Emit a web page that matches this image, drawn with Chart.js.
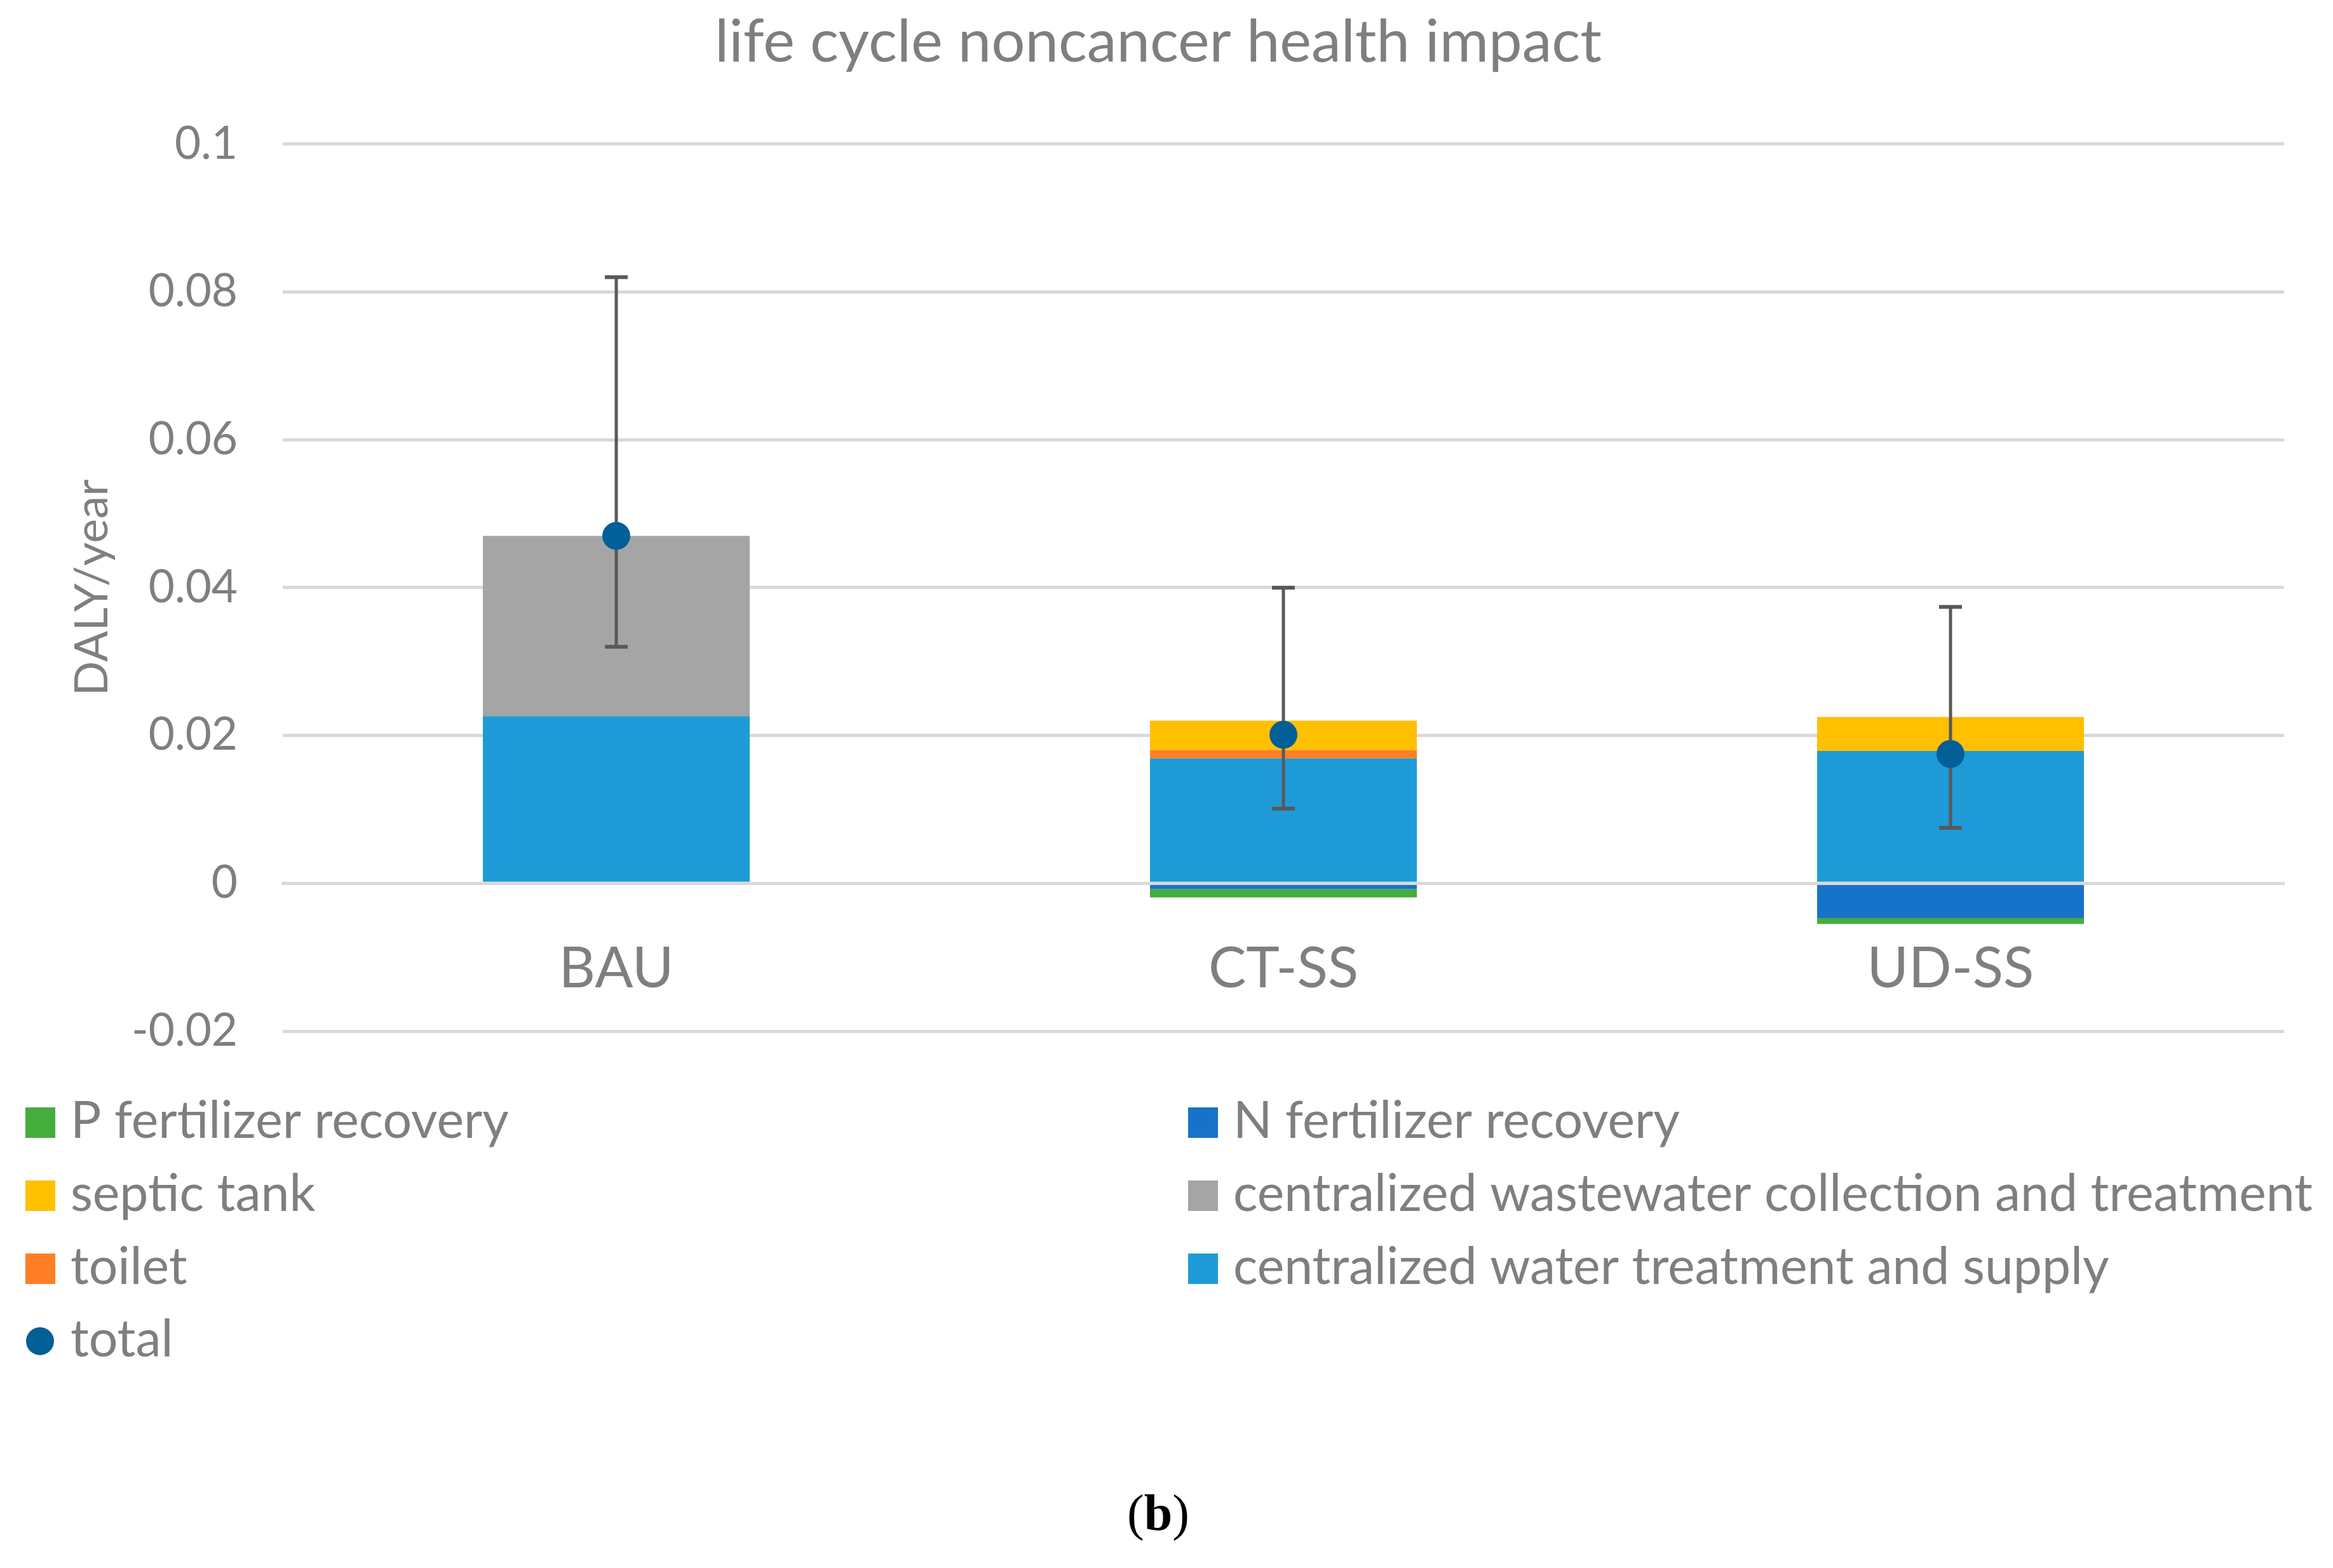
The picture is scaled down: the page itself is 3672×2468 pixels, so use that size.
<!DOCTYPE html>
<html>
<head>
<meta charset="utf-8">
<title>life cycle noncancer health impact</title>
<script src="https://cdn.jsdelivr.net/npm/chart.js@4.4.1/dist/chart.umd.min.js"></script>
<style>
    html, body { margin: 0; padding: 0; background: #ffffff; }
    #wrap { position: relative; width: 3672px; height: 2468px; }
    #caption {
        position: absolute; left: 0; width: 3646px; top: 2336px;
        text-align: center; font-family: "Liberation Serif", serif;
        font-size: 80px; color: #000000;
    }
</style>
</head>
<body>
<div id="wrap">
    <canvas id="lcaChart"></canvas>
    <div id="caption">(<b>b</b>)</div>
</div>
<script>
// ---- data ----
const categories = ['BAU', 'CT-SS', 'UD-SS'];

const waterSupply   = [0.0226, 0.0169, 0.0179];   // centralized water treatment and supply
const toilet        = [0,      0.0011, 0];
const septicTank    = [0,      0.0040, 0.0046];
const wastewater    = [0.0244, 0,      0];        // centralized wastewater collection and treatment
const nFertilizer   = [0,     -0.0008, -0.0047];
const pFertilizer   = [0,     -0.0011, -0.0008];

const total         = [0.0470, 0.0201, 0.0175];
const totalLow      = [0.0320, 0.0101, 0.0075];
const totalHigh     = [0.0820, 0.0400, 0.0374];

const yTickValues   = [-0.02, 0, 0.02, 0.04, 0.06, 0.08, 0.1];

const TEXT_GREY = '#7f7f7f';
Chart.defaults.font.family = 'Lato';

// error bars go under the "total" dots
const errorBarPlugin = {
    id: 'errorBars',
    beforeDatasetDraw(chart, args) {
        if (args.index !== 6) return;
        const ctx = chart.ctx;
        const x = chart.scales.x;
        const y = chart.scales.y;
        ctx.save();
        ctx.strokeStyle = '#595959';
        ctx.lineCap = 'butt';
        categories.forEach((c, i) => {
            const px = x.getPixelForValue(i);
            const lo = y.getPixelForValue(totalLow[i]);
            const hi = y.getPixelForValue(totalHigh[i]);
            ctx.lineWidth = 5;
            ctx.beginPath();
            ctx.moveTo(px, lo);
            ctx.lineTo(px, hi);
            ctx.stroke();
            ctx.lineWidth = 6;
            ctx.beginPath();
            ctx.moveTo(px - 18, lo); ctx.lineTo(px + 18, lo);
            ctx.moveTo(px - 18, hi); ctx.lineTo(px + 18, hi);
            ctx.stroke();
        });
        ctx.restore();
    }
};

// two-column legend like the Excel original
const gridLegendPlugin = {
    id: 'gridLegend',
    afterDraw(chart) {
        const order = [5, 4, 2, 3, 1, 0, 6];
        const colX = [40, 1870];
        const rowY = [1767, 1882, 1997, 2111];
        const ctx = chart.ctx;
        ctx.save();
        ctx.font = '80.5px Lato';
        ctx.textBaseline = 'alphabetic';
        ctx.textAlign = 'left';
        order.forEach((dsIndex, k) => {
            const ds = chart.data.datasets[dsIndex];
            const x = colX[k % 2];
            const yc = rowY[Math.floor(k / 2)];
            if (ds.type === 'line') {
                ctx.fillStyle = ds.pointBackgroundColor;
                ctx.beginPath();
                ctx.arc(x + 23, yc, 22, 0, Math.PI * 2);
                ctx.fill();
            } else {
                ctx.fillStyle = ds.backgroundColor;
                ctx.fillRect(x, yc - 24, 47, 48);
            }
            ctx.fillStyle = TEXT_GREY;
            ctx.fillText(ds.label, x + 71, yc + 24);
        });
        ctx.restore();
    }
};

const ctx = document.getElementById('lcaChart');

new Chart(ctx, {
    type: 'bar',
    data: {
        labels: categories,
        datasets: [
            { label: 'centralized water treatment and supply', data: waterSupply, backgroundColor: '#1e9bd7' },
            { label: 'toilet', data: toilet, backgroundColor: '#ff7f27' },
            { label: 'septic tank', data: septicTank, backgroundColor: '#ffc000' },
            { label: 'centralized wastewater collection and treatment', data: wastewater, backgroundColor: '#a5a5a5' },
            { label: 'N fertilizer recovery', data: nFertilizer, backgroundColor: '#1773c9' },
            { label: 'P fertilizer recovery', data: pFertilizer, backgroundColor: '#44ae3c' },
            {
                type: 'line',
                label: 'total',
                data: total,
                stack: 'total',
                showLine: false,
                order: -1,
                pointRadius: 22,
                pointHoverRadius: 22,
                pointBorderWidth: 0,
                pointBackgroundColor: '#025f98',
                borderColor: '#025f98'
            }
        ]
    },
    options: {
        responsive: true,
        maintainAspectRatio: false,
        animation: false,
        // left padding keeps the title centred where the original has it
        layout: { padding: { left: 51, right: 77, top: 0, bottom: 845 } },
        datasets: {
            bar: { categoryPercentage: 0.4, barPercentage: 1.0, borderWidth: 0 }
        },
        scales: {
            x: {
                stacked: true,
                position: { y: 0 },
                grid: { display: false },
                border: { display: true, color: '#d9d9d9', width: 5, z: 1 },
                ticks: {
                    color: TEXT_GREY,
                    padding: 74,
                    maxRotation: 0,
                    font: { size: 89 }
                },
                afterFit(scale) { scale.height = 0; }
            },
            y: {
                stacked: true,
                min: -0.02,
                max: 0.1,
                grid: { color: '#d9d9d9', lineWidth: 5, drawTicks: false },
                border: { display: false },
                afterBuildTicks(scale) {
                    scale.ticks = yTickValues.map(v => ({ value: v }));
                },
                ticks: {
                    color: TEXT_GREY,
                    padding: 71,
                    font: { size: 71 },
                    callback: function(value) { return String(+value.toFixed(4)); }
                },
                title: {
                    display: true,
                    text: 'DALY/year',
                    color: TEXT_GREY,
                    font: { size: 72 },
                    padding: { top: 52, bottom: 0 }
                },
                afterFit(scale) { scale.width = 394; }
            }
        },
        plugins: {
            legend: { display: false },
            tooltip: { enabled: false },
            title: {
                display: true,
                text: 'life cycle noncancer health impact',
                color: TEXT_GREY,
                font: { size: 94, weight: 'normal' },
                padding: { top: 10, bottom: 104 }
            }
        }
    },
    plugins: [errorBarPlugin, gridLegendPlugin]
});
</script>
</body>
</html>
